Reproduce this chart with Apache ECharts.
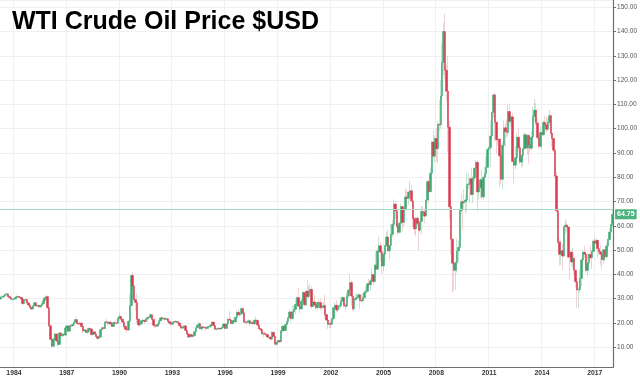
<!DOCTYPE html>
<html>
<head>
<meta charset="utf-8">
<script src="https://cdn.jsdelivr.net/npm/echarts@6/dist/echarts.min.js"></script>
<style>
html,body{margin:0;padding:0;background:#fff;}
#chart{width:640px;height:378px;}
</style>
</head>
<body>
<div id="chart"></div>
<script>
// Monthly WTI candles, Apr 1983 .. Jan 2018
const startYear = 1983, startMonth = 4;
const labelYears = [1984,1987,1990,1993,1996,1999,2002,2005,2008,2011,2014,2017];

const open = [
29.90,30.61,30.70,31.08,31.72,31.95,30.91,30.44,29.74,
29.77,29.87,30.60,30.89,30.63,30.50,29.79,27.94,29.45,29.63,28.25,27.35,
26.41,25.75,27.00,28.32,27.05,27.19,26.61,27.22,27.87,29.12,30.31,30.81,
26.30,18.83,13.26,10.42,13.34,15.44,12.58,11.15,15.90,14.77,15.27,15.00,
17.94,18.75,16.60,18.83,18.73,19.38,20.29,21.37,19.73,19.59,19.96,18.51,
16.70,17.13,16.08,16.51,17.70,17.54,15.16,16.33,15.46,14.39,13.67,14.17,
17.24,18.02,17.72,20.42,20.37,19.87,20.27,19.56,18.53,20.13,19.93,19.89,
21.82,22.68,21.54,20.34,18.56,17.40,17.07,20.69,27.17,39.51,35.23,29.51,
28.44,21.54,19.16,19.63,20.96,21.13,20.56,21.68,22.26,22.23,23.37,21.48,
19.12,18.90,18.68,19.44,20.85,22.11,21.60,21.87,21.48,21.71,20.62,19.89,
19.50,20.26,20.60,20.44,20.53,19.97,18.85,17.88,18.29,18.79,16.92,15.43,
14.17,15.19,14.48,14.66,16.38,18.05,19.16,19.65,17.56,18.39,18.19,18.05,
17.76,18.39,18.49,19.17,20.38,18.89,17.40,17.56,17.84,17.54,17.64,18.18,
19.55,17.74,19.54,21.47,21.20,19.76,20.92,20.42,22.25,24.38,23.35,23.75,
25.92,24.15,20.30,20.41,20.21,20.88,19.80,20.14,19.61,21.18,21.08,19.15,
17.64,17.21,15.44,15.61,15.39,15.20,14.18,14.21,13.34,16.14,14.42,11.22,
12.05,12.75,12.27,16.76,18.66,16.84,19.29,20.53,22.10,24.51,21.75,24.59,
25.60,27.64,30.43,26.90,25.74,29.01,32.50,27.43,33.12,30.84,32.70,33.82,
26.80,28.66,27.39,26.29,28.46,28.37,26.25,26.35,27.20,23.43,21.18,19.44,
19.84,19.48,21.74,26.31,27.29,25.31,26.86,27.02,28.98,30.45,27.22,26.89,
31.20,33.51,36.60,31.04,25.80,29.56,30.19,30.54,31.57,29.20,29.11,30.41,
32.52,33.05,36.16,35.76,37.38,39.88,37.05,43.80,42.12,49.64,51.76,49.13,
43.45,48.20,51.75,55.40,49.72,51.97,56.50,60.57,68.94,66.24,59.76,57.32,
61.04,67.92,61.41,66.63,71.88,71.29,73.93,74.40,70.26,62.91,58.73,63.13,
61.05,58.14,61.79,65.87,65.71,64.01,70.68,78.21,74.04,81.66,94.53,88.71,
95.98,91.75,101.84,101.58,113.46,127.35,140.00,124.08,115.46,100.64,67.81,54.43,
44.60,41.68,44.76,49.66,51.12,66.31,69.89,69.45,69.96,70.61,77.00,77.28,
79.36,72.89,79.66,83.76,86.15,73.97,75.63,78.95,71.92,79.97,81.43,84.11,
91.38,92.19,96.97,106.72,113.93,102.70,95.42,95.70,88.81,79.20,93.19,100.36,
98.83,98.48,107.07,103.02,104.87,86.53,84.96,88.06,96.47,92.19,86.24,88.91,
91.82,97.49,92.05,97.23,93.46,91.97,96.56,105.03,107.65,102.33,96.38,92.72,
98.42,97.49,102.59,101.58,99.74,102.71,105.37,98.17,95.96,91.16,80.54,66.15,
53.27,48.24,49.76,47.60,59.63,60.30,59.47,47.12,49.20,45.09,46.59,41.65,
37.04,33.62,33.75,38.34,45.92,49.10,48.33,41.60,44.70,48.24,46.86,49.44,
53.72,52.81,54.01,50.60,49.33,48.32,46.04,50.17,47.23,51.67,54.38,57.40,
60.42
];

const close = [
30.61,30.70,31.08,31.72,31.95,30.91,30.44,29.74,29.77,
29.87,30.60,30.89,30.63,30.50,29.79,27.94,29.45,29.63,28.25,27.35,26.41,
25.75,27.00,28.32,27.05,27.19,26.61,27.22,27.87,29.12,30.31,30.81,26.30,
18.83,13.26,10.42,13.34,15.44,12.58,11.15,15.90,14.77,15.27,15.00,17.94,
18.75,16.60,18.83,18.73,19.38,20.29,21.37,19.73,19.59,19.96,18.51,16.70,
17.13,16.08,16.51,17.70,17.54,15.16,16.33,15.46,14.39,13.67,14.17,17.24,
18.02,17.72,20.42,20.37,19.87,20.27,19.56,18.53,20.13,19.93,19.89,21.82,
22.68,21.54,20.34,18.56,17.40,17.07,20.69,27.17,39.51,35.23,29.51,28.44,
21.54,19.16,19.63,20.96,21.13,20.56,21.68,22.26,22.23,23.37,21.48,19.12,
18.90,18.68,19.44,20.85,22.11,21.60,21.87,21.48,21.71,20.62,19.89,19.50,
20.26,20.60,20.44,20.53,19.97,18.85,17.88,18.29,18.79,16.92,15.43,14.17,
15.19,14.48,14.66,16.38,18.05,19.16,19.65,17.56,18.39,18.19,18.05,17.76,
18.39,18.49,19.17,20.38,18.89,17.40,17.56,17.84,17.54,17.64,18.18,19.55,
17.74,19.54,21.47,21.20,19.76,20.92,20.42,22.25,24.38,23.35,23.75,25.92,
24.15,20.30,20.41,20.21,20.88,19.80,20.14,19.61,21.18,21.08,19.15,17.64,
17.21,15.44,15.61,15.39,15.20,14.18,14.21,13.34,16.14,14.42,11.22,12.05,
12.75,12.27,16.76,18.66,16.84,19.29,20.53,22.10,24.51,21.75,24.59,25.60,
27.64,30.43,26.90,25.74,29.01,32.50,27.43,33.12,30.84,32.70,33.82,26.80,
28.66,27.39,26.29,28.46,28.37,26.25,26.35,27.20,23.43,21.18,19.44,19.84,
19.48,21.74,26.31,27.29,25.31,26.86,27.02,28.98,30.45,27.22,26.89,31.20,
33.51,36.60,31.04,25.80,29.56,30.19,30.54,31.57,29.20,29.11,30.41,32.52,
33.05,36.16,35.76,37.38,39.88,37.05,43.80,42.12,49.64,51.76,49.13,43.45,
48.20,51.75,55.40,49.72,51.97,56.50,60.57,68.94,66.24,59.76,57.32,61.04,
67.92,61.41,66.63,71.88,71.29,73.93,74.40,70.26,62.91,58.73,63.13,61.05,
58.14,61.79,65.87,65.71,64.01,70.68,78.21,74.04,81.66,94.53,88.71,95.98,
91.75,101.84,101.58,113.46,127.35,140.00,124.08,115.46,100.64,67.81,54.43,44.60,
41.68,44.76,49.66,51.12,66.31,69.89,69.45,69.96,70.61,77.00,77.28,79.36,
72.89,79.66,83.76,86.15,73.97,75.63,78.95,71.92,79.97,81.43,84.11,91.38,
92.19,96.97,106.72,113.93,102.70,95.42,95.70,88.81,79.20,93.19,100.36,98.83,
98.48,107.07,103.02,104.87,86.53,84.96,88.06,96.47,92.19,86.24,88.91,91.82,
97.49,92.05,97.23,93.46,91.97,96.56,105.03,107.65,102.33,96.38,92.72,98.42,
97.49,102.59,101.58,99.74,102.71,105.37,98.17,95.96,91.16,80.54,66.15,53.27,
48.24,49.76,47.60,59.63,60.30,59.47,47.12,49.20,45.09,46.59,41.65,37.04,
33.62,33.75,38.34,45.92,49.10,48.33,41.60,44.70,48.24,46.86,49.44,53.72,
52.81,54.01,50.60,49.33,48.32,46.04,50.17,47.23,51.67,54.38,57.40,60.42,
64.75
];

const high = [
31.0,31.3,31.5,32.0,32.4,32.1,31.2,30.6,30.2,
30.3,30.9,31.4,31.1,31.0,30.7,29.9,29.7,30.0,29.8,28.6,27.6,
26.7,27.4,28.6,28.6,27.6,27.4,27.5,28.2,29.5,30.7,31.5,31.2,
26.5,19.0,13.5,14.0,16.1,15.7,12.9,16.2,16.0,15.6,15.6,18.2,
19.3,18.9,18.9,19.2,19.7,20.5,22.3,21.4,20.0,20.6,20.0,18.6,
17.6,17.3,16.9,18.1,18.2,17.7,16.7,16.4,15.6,14.6,14.9,17.4,
18.5,18.4,20.6,21.8,20.6,20.7,20.6,19.8,20.3,20.8,20.1,22.4,
24.0,22.9,21.6,20.5,19.3,17.8,21.0,31.9,39.9,41.15,35.5,30.2,
32.0,22.0,20.5,21.3,21.6,21.3,21.9,22.7,22.6,24.1,23.4,21.5,
19.6,19.3,19.6,21.0,22.3,22.7,22.2,22.0,22.2,22.0,20.8,20.2,
20.5,20.9,21.1,20.9,20.6,20.1,18.9,18.6,18.9,19.0,17.2,15.6,
15.6,15.4,15.2,16.8,18.3,19.4,20.6,19.7,18.5,18.5,18.6,18.1,
18.8,18.8,19.3,20.6,20.4,19.3,17.7,18.0,17.9,17.8,18.4,19.7,
20.0,19.6,22.0,25.0,22.5,21.1,22.3,22.5,25.2,25.9,24.6,26.6,
26.2,24.3,21.3,20.6,21.5,21.0,20.6,20.8,21.4,22.6,21.2,19.5,
17.9,17.3,16.4,16.5,15.8,15.5,14.8,14.3,16.7,16.4,14.5,12.2,
13.1,13.0,16.9,18.9,18.9,19.5,20.8,22.3,25.6,24.6,27.0,27.2,
30.0,30.8,34.4,27.4,30.3,33.1,32.6,33.3,37.8,35.0,36.1,35.1,
32.2,31.6,28.0,28.5,29.8,29.9,27.0,28.6,31.8,23.8,23.0,20.2,
21.3,22.0,26.5,28.4,29.4,27.3,28.2,30.5,31.2,30.6,28.1,32.7,
34.0,39.99,37.8,31.2,29.6,32.0,32.1,32.4,31.6,31.9,32.0,33.7,
35.2,36.5,38.2,38.3,42.3,40.0,44.2,49.4,50.5,55.7,53.5,49.5,
49.8,52.1,57.6,58.3,52.2,60.9,62.3,70.9,70.0,66.8,62.1,61.9,
69.2,68.1,67.2,75.4,74.6,74.0,78.4,77.0,70.5,63.6,63.5,64.2,
61.4,62.0,68.1,68.1,66.5,70.7,78.8,78.7,84.1,94.7,99.3,97.3,
100.1,103.1,111.8,119.9,135.1,143.7,147.27,126.5,130.0,103.0,71.0,55.0,
49.0,45.5,54.7,53.9,66.6,73.4,70.5,75.0,72.9,82.0,81.5,80.0,
83.95,80.5,83.9,87.1,87.2,79.9,79.7,83.0,80.5,84.2,88.6,92.0,
92.6,103.4,106.9,113.99,114.8,102.8,100.6,95.9,90.5,94.6,103.4,102.4,
103.7,109.95,110.5,105.5,106.4,86.9,92.9,98.3,100.4,93.4,89.6,91.9,
98.2,98.2,97.8,97.9,97.0,99.0,108.9,112.2,110.7,104.3,97.0,100.8,
98.6,103.4,105.2,104.9,104.5,107.7,106.0,98.7,96.1,91.9,82.2,67.0,
54.5,54.2,52.5,59.9,62.6,61.9,59.8,49.3,49.3,50.9,48.4,42.0,
38.4,34.7,41.9,46.8,50.2,51.7,49.0,48.75,48.5,51.9,49.9,54.5,
55.2,54.9,54.3,53.8,52.0,48.9,50.4,50.2,52.9,54.8,59.0,60.5,
66.7
];

const low = [
29.4,30.2,30.4,30.9,31.3,30.6,30.2,29.5,29.2,
29.3,29.7,30.4,30.2,30.1,29.5,27.6,27.7,29.1,27.9,27.0,26.0,
25.2,25.5,26.8,26.8,26.5,26.3,26.2,27.0,27.7,29.0,30.0,25.8,
18.3,12.8,10.0,10.3,13.1,12.3,10.4,11.0,14.3,14.0,14.7,14.9,
17.7,16.4,16.5,18.2,18.6,19.3,20.2,19.4,19.0,19.2,18.2,15.8,
16.3,15.8,15.4,16.4,17.2,15.0,14.9,15.1,14.2,13.1,13.3,14.0,
16.8,17.3,17.6,19.8,19.0,19.3,18.9,18.3,18.4,19.4,19.4,19.8,
21.0,21.1,19.9,17.9,17.0,15.9,16.9,20.6,26.8,30.0,29.0,25.0,
20.0,18.5,18.7,19.4,20.4,19.4,20.5,20.5,21.6,22.0,21.2,18.9,
17.9,18.1,18.3,19.2,20.6,21.4,21.3,21.0,21.3,20.4,19.5,18.8,
18.9,19.7,20.2,20.0,19.6,18.6,17.4,17.5,17.6,16.7,15.3,13.9,
14.1,14.1,13.9,14.5,16.3,17.9,18.9,17.4,16.9,17.4,17.6,16.8,
17.5,17.8,17.8,19.1,18.6,17.3,16.9,17.4,17.2,17.1,17.6,18.0,
17.3,17.6,19.3,20.6,19.4,19.2,20.0,20.3,21.9,23.2,22.4,23.3,
23.9,20.2,19.6,19.2,20.0,18.6,19.4,19.5,19.3,20.8,19.0,17.5,
16.2,15.3,14.0,14.8,14.4,13.4,13.8,12.9,13.2,14.2,11.0,10.35,
11.4,11.6,12.1,15.8,16.6,16.7,19.0,19.7,21.9,20.6,21.7,24.2,
23.7,27.1,26.4,24.0,25.5,28.6,27.1,27.2,30.1,30.4,32.1,25.8,
26.7,26.7,25.1,25.5,27.4,25.7,24.9,26.0,21.8,20.8,17.5,17.8,
17.9,19.3,21.3,23.4,24.5,24.2,25.7,26.1,28.5,26.2,25.1,26.5,
30.0,33.0,26.9,24.9,25.0,29.4,29.6,30.0,25.8,28.6,28.7,30.0,
32.2,32.6,34.8,33.3,37.2,35.4,36.6,41.6,41.8,49.0,45.5,40.3,
41.3,45.0,51.4,49.0,46.2,51.8,55.3,60.4,62.8,59.3,56.1,56.9,
60.8,57.6,59.6,66.2,68.0,68.6,72.7,69.9,59.5,56.6,55.7,59.7,
49.9,57.2,56.5,63.6,61.0,63.8,69.9,69.0,73.9,79.0,87.9,86.2,
86.1,86.1,98.7,100.1,109.9,122.0,120.4,111.3,90.5,62.2,48.3,32.4,
33.2,33.55,40.7,45.3,50.2,65.0,58.3,66.7,65.1,66.0,75.2,69.5,
72.4,69.5,78.3,80.6,66.0,70.8,71.4,70.8,70.8,79.0,80.2,83.9,
85.1,84.1,96.0,104.7,94.6,89.6,93.0,75.7,77.1,74.95,91.2,92.5,
96.5,96.9,102.0,100.7,86.2,77.3,83.4,87.3,90.5,85.3,84.1,84.3,
91.3,91.5,89.3,85.6,89.9,91.1,96.0,103.2,101.4,95.6,91.8,92.5,
91.2,96.9,97.4,98.3,98.9,101.4,97.2,92.5,90.4,79.8,65.7,52.7,
43.6,43.9,42.0,47.0,56.5,57.6,46.7,37.75,43.2,43.0,39.9,34.5,
26.2,26.05,32.7,35.2,43.0,46.7,40.6,39.2,42.5,46.2,42.2,49.1,
50.7,51.2,47.1,48.2,43.8,42.05,44.4,45.6,46.5,49.1,53.9,55.8,
59.1
];

const lastPrice = 64.75;
const priceLineValue = 66.9;

// categories: one per month
const categories = [];
for (let i = 0; i < close.length; i++) {
  const m = startMonth - 1 + i;
  const y = startYear + Math.floor(m / 12);
  const mm = (m % 12) + 1;
  categories.push(y + '-' + (mm < 10 ? '0' : '') + mm);
}
function isLabelIdx(idx) {
  const c = categories[idx];
  if (!c) return false;
  return c.slice(5) === '01' && labelYears.indexOf(+c.slice(0, 4)) >= 0;
}

const wickData = close.map((c, i) => [open[i], c, low[i], high[i]]);
const bodyData = close.map((c, i) => [open[i], c, Math.min(open[i], c), Math.max(open[i], c)]);

const UP = '#3dab72', DOWN = '#d93a4e';

const chart = echarts.init(document.getElementById('chart'), null, {renderer: 'canvas'});
const lenOk = open.length === close.length && high.length === close.length && low.length === close.length;

chart.setOption({
  animation: false,
  backgroundColor: '#ffffff',
  title: {
    text: 'WTI Crude Oil Price $USD',
    left: 7, top: 5,
    textStyle: {fontFamily: '"Liberation Sans", Arial, sans-serif', fontSize: 25, fontWeight: 'bold', color: '#000'}
  },
  graphic: lenOk ? [] : [{type: 'text', left: 200, top: 150, style: {text: 'LEN ' + open.length + ' ' + close.length + ' ' + high.length + ' ' + low.length, fontSize: 20, fill: 'red'}}],
  grid: {left: 0, right: 26, top: 0, bottom: 11, containLabel: false},
  xAxis: {
    type: 'category',
    data: categories,
    boundaryGap: true,
    axisLine: {show: true, lineStyle: {color: '#6e6e6e', width: 1.2}},
    axisTick: {show: false},
    axisLabel: {
      interval: (idx) => isLabelIdx(idx),
      formatter: (v) => v.slice(0, 4),
      fontSize: 6.8, color: '#333', fontWeight: 'bold', margin: 3,
      fontFamily: '"Liberation Sans", Arial, sans-serif'
    },
    splitLine: {show: true, interval: (idx) => isLabelIdx(idx), lineStyle: {color: '#eef0f2', width: 1}}
  },
  yAxis: {
    type: 'value',
    position: 'right',
    min: 1.85, max: 153,
    minInterval: 10, maxInterval: 10, splitNumber: 15,
    axisLine: {show: true, lineStyle: {color: '#6e6e6e', width: 1.2}},
    axisTick: {show: true, length: 3, lineStyle: {color: '#6e6e6e'}},
    axisLabel: {
      showMinLabel: false, showMaxLabel: false,
      formatter: (v) => v.toFixed(2),
      fontSize: 6.5, color: '#555', margin: 4,
      fontFamily: '"Liberation Sans", Arial, sans-serif'
    },
    splitLine: {show: true, lineStyle: {color: '#eef0f2', width: 1}}
  },
  series: [
    {
      type: 'candlestick',
      name: 'wick',
      data: wickData,
      barWidth: 0.5,
      barMinWidth: 0.5,
      itemStyle: {
        color: 'rgba(150,200,172,0.5)', color0: 'rgba(232,165,172,0.5)',
        borderColor: 'rgba(150,200,172,0.5)', borderColor0: 'rgba(232,165,172,0.5)',
        borderWidth: 1
      },
      silent: true
    },
    {
      type: 'candlestick',
      name: 'body',
      data: bodyData,
      barWidth: 2,
      barMinWidth: 2,
      itemStyle: {
        color: UP, color0: DOWN,
        borderColor: UP, borderColor0: DOWN,
        borderWidth: 0.5
      },
      silent: true,
      markLine: {
        silent: true,
        symbol: 'none',
        animation: false,
        data: [
          {yAxis: priceLineValue, lineStyle: {color: '#a8dcc5', width: 1, type: 'solid'}, label: {show: false}},
          {yAxis: lastPrice, lineStyle: {color: 'rgba(0,0,0,0)', width: 0}, label: {
            show: true, position: 'end', distance: 2,
            formatter: lastPrice.toFixed(2),
            backgroundColor: '#4cb27f', color: '#fff', fontSize: 7, fontWeight: 'bold',
            padding: [1.5, 2], fontFamily: '"Liberation Sans", Arial, sans-serif'
          }}
        ]
      }
    }
  ]
});
</script>
</body>
</html>
